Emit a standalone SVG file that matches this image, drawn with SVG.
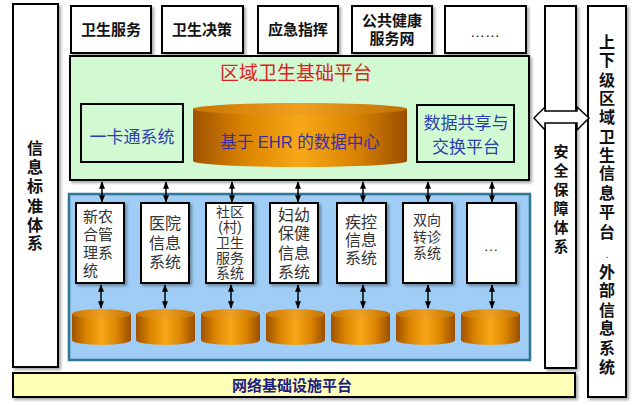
<svg xmlns="http://www.w3.org/2000/svg" width="635" height="405" viewBox="0 0 635 405">
<defs>
<linearGradient id="cyl" x1="0" y1="0" x2="1" y2="0">
<stop offset="0" stop-color="#a05200"/>
<stop offset="0.25" stop-color="#dc8600"/>
<stop offset="0.5" stop-color="#f7a818"/>
<stop offset="0.75" stop-color="#dc8600"/>
<stop offset="1" stop-color="#9a4e00"/>
</linearGradient>
<linearGradient id="cyltop" x1="0" y1="0" x2="1" y2="0">
<stop offset="0" stop-color="#c87400"/>
<stop offset="0.5" stop-color="#f0a020"/>
<stop offset="1" stop-color="#c07000"/>
</linearGradient>
<filter id="sh" x="-10%" y="-10%" width="130%" height="130%">
<feDropShadow dx="2" dy="2" stdDeviation="1.5" flood-color="#000" flood-opacity="0.35"/>
</filter>
<marker id="ah" viewBox="0 0 10 10" refX="9" refY="5" markerWidth="5" markerHeight="5" orient="auto-start-reverse">
<path d="M0,1 L10,5 L0,9 z" fill="#000"/>
</marker>
</defs>
<style>
.box{fill:#fff;stroke:#000;stroke-width:2;filter:url(#sh)}
.cjk{font-family:"Liberation Sans","Noto Sans CJK SC",sans-serif}
.top{font-size:15px;font-weight:bold;fill:#111;text-anchor:middle}
.vert{font-size:16px;font-weight:bold;fill:#111;text-anchor:middle}
.sys{font-size:15px;fill:#333;text-anchor:middle}
.blue{font-size:17px;fill:#2a3fb0;text-anchor:middle}
.conn line{stroke:#000;stroke-width:1.5;marker-start:url(#ah);marker-end:url(#ah)}
.cb{fill:url(#cyl)}
.ct{fill:url(#cyltop)}
</style>

<g id="standard">
<rect class="box" x="13" y="4" width="45" height="363"/>
<g class="cjk vert">
<text x="35" y="154">信</text><text x="35" y="173">息</text><text x="35" y="192">标</text>
<text x="35" y="212">准</text><text x="35" y="231">体</text><text x="35" y="249">系</text>
</g>
</g>

<g id="app1"><rect class="box" x="71" y="6" width="80" height="47"/><text class="cjk top" x="111" y="35">卫生服务</text></g>
<g id="app2"><rect class="box" x="162" y="6" width="81" height="47"/><text class="cjk top" x="202" y="35">卫生决策</text></g>
<g id="app3"><rect class="box" x="258" y="6" width="80" height="47"/><text class="cjk top" x="298" y="35">应急指挥</text></g>
<g id="app4"><rect class="box" x="352" y="6" width="80" height="47"/><text class="cjk top" x="392" y="26">公共健康</text><text class="cjk top" x="392" y="44">服务网</text></g>
<g id="app5"><rect class="box" x="445" y="6" width="81" height="47"/><text class="cjk top" x="485" y="37" style="font-weight:normal">……</text></g>

<g id="platform">
<rect x="70" y="56" width="459" height="124" fill="#d2fad2" stroke="#000" stroke-width="2" filter="url(#sh)"/>
<text class="cjk" x="296" y="80" font-size="19" fill="#e02020" text-anchor="middle">区域卫生基础平台</text>
</g>

<g id="card">
<rect x="81" y="104" width="102" height="58" fill="#d2fad2" stroke="#000" stroke-width="2"/>
<text class="cjk blue" x="132" y="143">一卡通系统</text>
</g>

<g id="ehr">
<path class="cb" d="M193,109 V161 A107,6 0 0 0 407,161 V109 z"/>
<ellipse class="ct" cx="300" cy="109" rx="107" ry="6"/>
<text class="cjk" x="300" y="148" font-size="16.5" fill="#3a2ea0" text-anchor="middle">基于 EHR 的数据中心</text>
</g>

<g id="exchange">
<rect x="417" y="105" width="97" height="57" fill="#d2fad2" stroke="#000" stroke-width="2"/>
<text class="cjk blue" x="466" y="129">数据共享与</text>
<text class="cjk blue" x="466" y="153">交换平台</text>
</g>

<g id="bizarea">
<rect x="69" y="194" width="461" height="166" fill="#9fcdf5" stroke="#2f7595" stroke-width="2.5"/>
</g>

<g id="sys1"><rect class="box" x="76" y="203" width="48" height="80"/>
<g class="cjk sys" style="text-anchor:start"><text x="83" y="222">新农</text><text x="83" y="240">合管</text><text x="83" y="258">理系</text><text x="83" y="276">统</text></g></g>
<g id="sys2"><rect class="box" x="141" y="203" width="48" height="80"/>
<g class="cjk sys" style="font-size:16px"><text x="165" y="229">医院</text><text x="165" y="249">信息</text><text x="165" y="268">系统</text></g></g>
<g id="sys3"><rect class="box" x="206" y="203" width="47" height="80"/>
<g class="cjk sys" style="font-size:14px"><text x="230" y="217">社区</text><text x="230" y="232">(村)</text><text x="230" y="248">卫生</text><text x="230" y="263">服务</text><text x="230" y="278">系统</text></g></g>
<g id="sys4"><rect class="box" x="270" y="203" width="48" height="80"/>
<g class="cjk sys" style="font-size:16px"><text x="294" y="221">妇幼</text><text x="294" y="239">保健</text><text x="294" y="259">信息</text><text x="294" y="278">系统</text></g></g>
<g id="sys5"><rect class="box" x="337" y="203" width="49" height="80"/>
<g class="cjk sys" style="font-size:16px"><text x="361" y="228">疾控</text><text x="361" y="246">信息</text><text x="361" y="264">系统</text></g></g>
<g id="sys6"><rect class="box" x="403" y="203" width="49" height="80"/>
<g class="cjk sys" style="font-size:14px"><text x="427" y="225">双向</text><text x="427" y="242">转诊</text><text x="427" y="258">系统</text></g></g>
<g id="sys7"><rect class="box" x="467" y="203" width="49" height="80"/>
<text class="cjk sys" x="491" y="251">…</text></g>

<g id="dbs">
<g id="db1"><path class="cb" d="M72,314 V340 A29.5,5 0 0 0 131,340 V314 z"/><ellipse class="ct" cx="101.5" cy="314" rx="29.5" ry="5"/></g>
<g id="db2"><path class="cb" d="M136,314 V340 A29.5,5 0 0 0 195,340 V314 z"/><ellipse class="ct" cx="165.5" cy="314" rx="29.5" ry="5"/></g>
<g id="db3"><path class="cb" d="M201,314 V340 A29.5,5 0 0 0 260,340 V314 z"/><ellipse class="ct" cx="230.5" cy="314" rx="29.5" ry="5"/></g>
<g id="db4"><path class="cb" d="M266,314 V340 A29.5,5 0 0 0 325,340 V314 z"/><ellipse class="ct" cx="295.5" cy="314" rx="29.5" ry="5"/></g>
<g id="db5"><path class="cb" d="M331,314 V340 A29.5,5 0 0 0 390,340 V314 z"/><ellipse class="ct" cx="360.5" cy="314" rx="29.5" ry="5"/></g>
<g id="db6"><path class="cb" d="M396,314 V340 A29.5,5 0 0 0 455,340 V314 z"/><ellipse class="ct" cx="425.5" cy="314" rx="29.5" ry="5"/></g>
<g id="db7"><path class="cb" d="M461,314 V340 A29.5,5 0 0 0 520,340 V314 z"/><ellipse class="ct" cx="490.5" cy="314" rx="29.5" ry="5"/></g>
</g>

<g id="network">
<rect x="13" y="373" width="562" height="24" fill="#ffffb8" stroke="#000" stroke-width="2" filter="url(#sh)"/>
<text class="cjk" x="292" y="391" font-size="15" font-weight="bold" fill="#1c2080" text-anchor="middle">网络基础设施平台</text>
</g>

<g id="security">
<rect class="box" x="545" y="6" width="31" height="362"/>
<g class="cjk vert" style="font-size:15px">
<text x="561" y="157">安</text><text x="561" y="176">全</text><text x="561" y="195">保</text>
<text x="561" y="214">障</text><text x="561" y="233">体</text><text x="561" y="252">系</text>
</g>
</g>

<g id="external">
<rect class="box" x="588" y="6" width="38" height="391"/>
<g class="cjk vert">
<text x="607" y="48">上</text><text x="607" y="66">下</text><text x="607" y="86">级</text><text x="607" y="104">区</text>
<text x="607" y="123">域</text><text x="607" y="143">卫</text><text x="607" y="161">生</text><text x="607" y="179">信</text>
<text x="607" y="199">息</text><text x="607" y="218">平</text><text x="607" y="238">台</text><text x="607" y="258" style="font-weight:normal;font-size:10px">.</text>
<text x="607" y="278">外</text><text x="607" y="296">部</text><text x="607" y="316">信</text><text x="607" y="334">息</text>
<text x="607" y="354">系</text><text x="607" y="373">统</text>
</g>
</g>

<g id="connectors">
<polygon points="534,118 545,107 545,111 577,111 577,107 589,118 577,130 577,123 545,123 545,130" fill="#fff" stroke="#000" stroke-width="1.5"/>
<g class="conn">
<line x1="102" y1="182" x2="102" y2="202"/>
<line x1="166" y1="182" x2="166" y2="202"/>
<line x1="232" y1="182" x2="232" y2="202"/>
<line x1="298" y1="182" x2="298" y2="202"/>
<line x1="363" y1="182" x2="363" y2="202"/>
<line x1="428" y1="182" x2="428" y2="202"/>
<line x1="492" y1="182" x2="492" y2="202"/>
<line x1="101" y1="285" x2="101" y2="308"/>
<line x1="165" y1="285" x2="165" y2="308"/>
<line x1="231" y1="285" x2="231" y2="308"/>
<line x1="298" y1="285" x2="298" y2="308"/>
<line x1="363" y1="285" x2="363" y2="308"/>
<line x1="428" y1="285" x2="428" y2="308"/>
<line x1="492" y1="285" x2="492" y2="308"/>
</g>
</g>
</svg>
